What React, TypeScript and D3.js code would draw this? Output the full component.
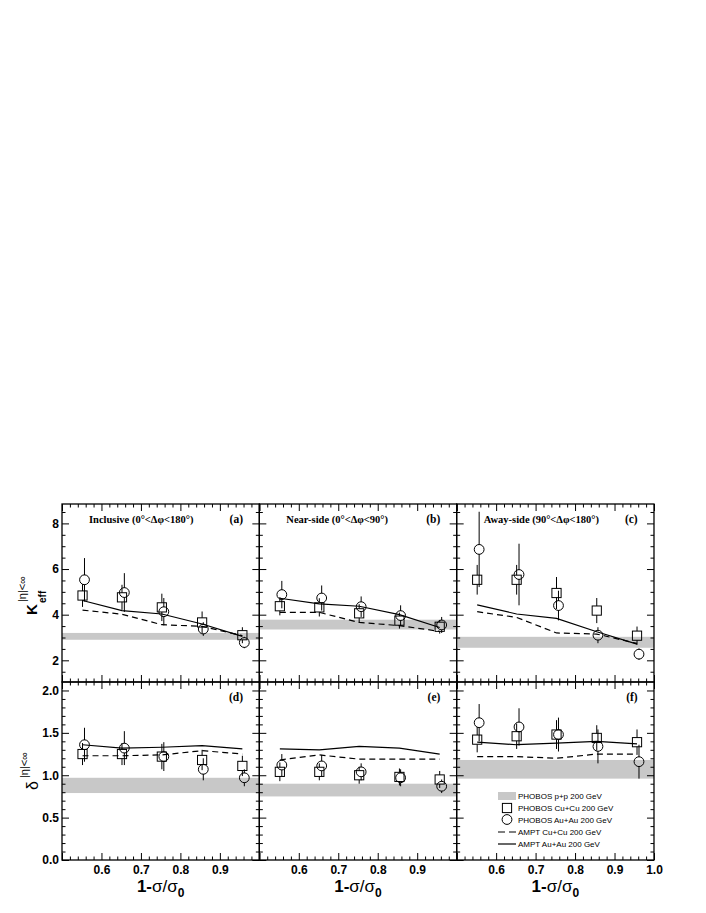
import React, { useEffect, useRef } from 'react';
import * as d3 from 'd3';

const W = 706;
const H = 913;

// centrality positions (1 - sigma/sigma0)
const xCuCu = [0.552, 0.652, 0.753, 0.855, 0.957];
const xAuAu = [0.557, 0.658, 0.758, 0.858, 0.962];
const xAmpt = [0.552, 0.652, 0.753, 0.855, 0.957];

// (a) inclusive K_eff
const keffIncCu = [4.84, 4.76, 4.32, 3.66, 3.1];
const keffIncCuErr = [0.5, 0.55, 0.6, 0.48, 0.35];
const keffIncAu = [5.53, 4.97, 4.13, 3.37, 2.78];
const keffIncAuErr = [0.95, 0.85, 0.6, 0.3, 0.25];
const keffIncAmptAu = [4.62, 4.18, 4.03, 3.59, 3.05];
const keffIncAmptCu = [4.2, 4.02, 3.56, 3.49, 3.08];
const keffIncPP = [2.9, 3.2];

// (b) near-side K_eff
const keffNearCu = [4.37, 4.32, 4.06, 3.74, 3.47];
const keffNearCuErr = [0.4, 0.4, 0.4, 0.35, 0.3];
const keffNearAu = [4.88, 4.73, 4.35, 3.96, 3.55];
const keffNearAuErr = [0.6, 0.55, 0.45, 0.45, 0.35];
const keffNearAmptAu = [4.72, 4.47, 4.37, 4.0, 3.44];
const keffNearAmptCu = [4.1, 4.1, 3.66, 3.52, 3.27];
const keffNearPP = [3.35, 3.78];

// (c) away-side K_eff
const keffAwayCu = [5.53, 5.53, 4.95, 4.18, 3.08];
const keffAwayCuErr = [0.65, 0.65, 0.7, 0.55, 0.4];
const keffAwayAu = [6.86, 5.76, 4.4, 3.1, 2.27];
const keffAwayAuErr = [1.65, 1.35, 0.65, 0.35, 0.25];
const keffAwayAmptAu = [4.43, 4.03, 3.84, 3.25, 2.71];
const keffAwayAmptCu = [4.13, 3.88, 3.2, 3.15, 2.74];
const keffAwayPP = [2.55, 3.03];

// (d) inclusive delta
const deltaIncCu = [1.25, 1.25, 1.22, 1.18, 1.11];
const deltaIncCuErr = [0.13, 0.13, 0.15, 0.12, 0.12];
const deltaIncAu = [1.36, 1.32, 1.22, 1.07, 0.97];
const deltaIncAuErr = [0.2, 0.2, 0.17, 0.13, 0.1];
const deltaIncAmptAu = [1.36, 1.32, 1.33, 1.35, 1.31];
const deltaIncAmptCu = [1.23, 1.23, 1.24, 1.29, 1.25];
const deltaIncPP = [0.79, 0.97];

// (e) near-side delta
const deltaNearCu = [1.04, 1.04, 1.0, 0.98, 0.95];
const deltaNearCuErr = [0.11, 0.1, 0.1, 0.1, 0.1];
const deltaNearAu = [1.12, 1.11, 1.04, 0.97, 0.87];
const deltaNearAuErr = [0.13, 0.13, 0.1, 0.1, 0.08];
const deltaNearAmptAu = [1.31, 1.3, 1.34, 1.32, 1.25];
const deltaNearAmptCu = [1.18, 1.24, 1.19, 1.19, 1.19];
const deltaNearPP = [0.75, 0.9];

// (f) away-side delta
const deltaAwayCu = [1.42, 1.46, 1.48, 1.44, 1.39];
const deltaAwayCuErr = [0.15, 0.15, 0.17, 0.15, 0.15];
const deltaAwayAu = [1.62, 1.57, 1.48, 1.34, 1.16];
const deltaAwayAuErr = [0.22, 0.22, 0.2, 0.2, 0.2];
const deltaAwayAmptAu = [1.39, 1.36, 1.38, 1.4, 1.37];
const deltaAwayAmptCu = [1.22, 1.22, 1.2, 1.25, 1.25];
const deltaAwayPP = [0.96, 1.18];

const panelTitles = ['Inclusive (0°<Δφ<180°)', 'Near-side (0°<Δφ<90°)', 'Away-side (90°<Δφ<180°)'];
const panelTags = ['(a)', '(b)', '(c)', '(d)', '(e)', '(f)'];
const legendLabels = [
  'PHOBOS p+p 200 GeV',
  'PHOBOS Cu+Cu 200 GeV',
  'PHOBOS Au+Au 200 GeV',
  'AMPT Cu+Cu 200 GeV',
  'AMPT Au+Au 200 GeV',
];

const xDomain = [0.5, 1.0];
const keffDomain = [1.05, 8.85];
const deltaDomain = [0, 2.1];
const xMajor = [0.5, 0.6, 0.7, 0.8, 0.9, 1.0];
const keffMajor = [2, 4, 6, 8];
const deltaMajor = [0, 0.5, 1, 1.5, 2];

const panels = [
  { cu: keffIncCu, cuErr: keffIncCuErr, au: keffIncAu, auErr: keffIncAuErr, amptAu: keffIncAmptAu, amptCu: keffIncAmptCu, pp: keffIncPP },
  { cu: keffNearCu, cuErr: keffNearCuErr, au: keffNearAu, auErr: keffNearAuErr, amptAu: keffNearAmptAu, amptCu: keffNearAmptCu, pp: keffNearPP },
  { cu: keffAwayCu, cuErr: keffAwayCuErr, au: keffAwayAu, auErr: keffAwayAuErr, amptAu: keffAwayAmptAu, amptCu: keffAwayAmptCu, pp: keffAwayPP },
  { cu: deltaIncCu, cuErr: deltaIncCuErr, au: deltaIncAu, auErr: deltaIncAuErr, amptAu: deltaIncAmptAu, amptCu: deltaIncAmptCu, pp: deltaIncPP },
  { cu: deltaNearCu, cuErr: deltaNearCuErr, au: deltaNearAu, auErr: deltaNearAuErr, amptAu: deltaNearAmptAu, amptCu: deltaNearAmptCu, pp: deltaNearPP },
  { cu: deltaAwayCu, cuErr: deltaAwayCuErr, au: deltaAwayAu, auErr: deltaAwayAuErr, amptAu: deltaAwayAmptAu, amptCu: deltaAwayAmptCu, pp: deltaAwayPP },
];

const sans = 'Liberation Sans, Arial, Helvetica, sans-serif';
const serif = 'Liberation Serif, Times New Roman, serif';
const bandColor = '#c8c8c8';

const plotLeft = 62;
const plotTop = 504;
const panelW = 197.33;
const panelH = 178;
const markerHalf = 4.6;

function App() {
  const ref = useRef<SVGSVGElement>(null);

  useEffect(() => {
    const svg = d3.select(ref.current);
    svg.selectAll('*').remove();
    svg.append('rect').attr('width', W).attr('height', H).attr('fill', 'white');

    panels.forEach((p, i) => {
      const col = i % 3;
      const row = Math.floor(i / 3);
      const x0 = plotLeft + col * panelW;
      const x1 = x0 + panelW;
      const y0 = plotTop + row * panelH;
      const y1 = y0 + panelH;

      const yDom = row === 0 ? keffDomain : deltaDomain;
      const x = d3.scaleLinear().domain(xDomain).range([x0, x1]);
      const y = d3.scaleLinear().domain(yDom).range([y1, y0]);
      const g = svg.append('g');

      // p+p band
      g.append('rect')
        .attr('x', x(0.5))
        .attr('width', x(1.0) - x(0.5))
        .attr('y', y(p.pp[1]))
        .attr('height', y(p.pp[0]) - y(p.pp[1]))
        .attr('fill', bandColor);

      // axes with inward ticks
      const yMajor = row === 0 ? keffMajor : deltaMajor;
      const yMinor = (row === 0
        ? d3.range(0, 18).map(k => 1.5 + k * 0.5).filter(v => v % 2 !== 0)
        : d3.range(0, 22).map(k => +(k * 0.1).toFixed(1)).filter(v => Math.abs(v * 2 - Math.round(v * 2)) > 1e-6))
        .filter(v => v > yDom[0] && v < yDom[1]);
      const xMinor = d3.range(0, 26).map(k => +(0.5 + k * 0.02).toFixed(2)).filter(v => Math.abs(v * 10 - Math.round(v * 10)) > 1e-6);

      const style = (sel: any) => {
        sel.select('.domain').remove();
        sel.selectAll('line').attr('stroke', 'black').attr('stroke-width', 1);
        sel.selectAll('text')
          .attr('font-family', sans)
          .attr('font-weight', 'bold')
          .attr('font-size', 12)
          .attr('fill', 'black');
      };

      const yFmt = row === 0 ? d3.format('d') : d3.format('.1f');
      g.append('g').attr('transform', `translate(${x0},0)`)
        .call(d3.axisLeft(y).tickValues(yMajor).tickSize(-7).tickPadding(3)
          .tickFormat(col === 0 ? (d: any) => yFmt(d) : () => ''))
        .call(style);
      g.append('g').attr('transform', `translate(${x0},0)`)
        .call(d3.axisLeft(y).tickValues(yMinor).tickSize(-3.5).tickFormat(() => ''))
        .call(style);
      g.append('g').attr('transform', `translate(${x1},0)`)
        .call(d3.axisRight(y).tickValues(yMajor).tickSize(-7).tickFormat(() => ''))
        .call(style);
      g.append('g').attr('transform', `translate(${x1},0)`)
        .call(d3.axisRight(y).tickValues(yMinor).tickSize(-3.5).tickFormat(() => ''))
        .call(style);

      const xFmt = (d: any) => {
        if (row === 0) return '';
        if (d === 0.5) return '';
        if (d === 1.0 && col !== 2) return '';
        return d3.format('.1f')(d);
      };
      g.append('g').attr('transform', `translate(0,${y1})`)
        .call(d3.axisBottom(x).tickValues(xMajor).tickSize(-7).tickPadding(5).tickFormat(xFmt))
        .call(style);
      g.append('g').attr('transform', `translate(0,${y1})`)
        .call(d3.axisBottom(x).tickValues(xMinor).tickSize(-3.5).tickFormat(() => ''))
        .call(style);
      g.append('g').attr('transform', `translate(0,${y0})`)
        .call(d3.axisTop(x).tickValues(xMajor).tickSize(-7).tickFormat(() => ''))
        .call(style);
      g.append('g').attr('transform', `translate(0,${y0})`)
        .call(d3.axisTop(x).tickValues(xMinor).tickSize(-3.5).tickFormat(() => ''))
        .call(style);

      // AMPT curves
      const amptLine = d3.line<number>().x((_, k) => x(xAmpt[k])).y(v => y(v));
      g.append('path').attr('d', amptLine(p.amptCu)).attr('fill', 'none')
        .attr('stroke', 'black').attr('stroke-width', 1.2).attr('stroke-dasharray', '6,4');
      g.append('path').attr('d', amptLine(p.amptAu)).attr('fill', 'none')
        .attr('stroke', 'black').attr('stroke-width', 1.2);

      // error bars (not crossing own marker)
      const errBars = (xs: number[], vals: number[], errs: number[]) => {
        vals.forEach((v, k) => {
          const cx = x(xs[k]);
          const cy = y(v);
          const top = y(v + errs[k]);
          const bot = y(v - errs[k]);
          if (top < cy - markerHalf) {
            g.append('line').attr('x1', cx).attr('x2', cx).attr('y1', top).attr('y2', cy - markerHalf)
              .attr('stroke', 'black').attr('stroke-width', 1);
          }
          if (bot > cy + markerHalf) {
            g.append('line').attr('x1', cx).attr('x2', cx).attr('y1', cy + markerHalf).attr('y2', bot)
              .attr('stroke', 'black').attr('stroke-width', 1);
          }
        });
      };
      errBars(xCuCu, p.cu, p.cuErr);
      errBars(xAuAu, p.au, p.auErr);

      g.selectAll(null).data(p.cu).enter().append('rect')
        .attr('x', (_, k) => x(xCuCu[k]) - markerHalf)
        .attr('y', d => y(d) - markerHalf)
        .attr('width', markerHalf * 2)
        .attr('height', markerHalf * 2)
        .attr('fill', 'none').attr('stroke', 'black').attr('stroke-width', 1);
      g.selectAll(null).data(p.au).enter().append('circle')
        .attr('cx', (_, k) => x(xAuAu[k]))
        .attr('cy', d => y(d))
        .attr('r', markerHalf + 0.3)
        .attr('fill', 'none').attr('stroke', 'black').attr('stroke-width', 1);

      // frame
      g.append('rect').attr('x', x0).attr('y', y0).attr('width', panelW).attr('height', panelH)
        .attr('fill', 'none').attr('stroke', 'black').attr('stroke-width', 1.3);

      // titles and tags
      if (row === 0) {
        g.append('text').attr('x', x0 + 27).attr('y', y0 + 19)
          .attr('font-family', serif).attr('font-weight', 'bold').attr('font-size', 10.5)
          .text(panelTitles[col]);
      }
      g.append('text').attr('x', x0 + 181).attr('y', y0 + 19).attr('text-anchor', 'end')
        .attr('font-family', serif).attr('font-weight', 'bold').attr('font-size', 11.5)
        .text(panelTags[i]);

      // x-axis title
      if (row === 1) {
        const t = g.append('text').attr('x', (x0 + x1) / 2).attr('y', 892)
          .attr('text-anchor', 'middle').attr('font-family', sans).attr('font-size', 17);
        t.append('tspan').attr('font-weight', 'bold').text('1-');
        t.append('tspan').text('σ/σ');
        t.append('tspan').attr('font-weight', 'bold').attr('font-size', 12).attr('dy', 5).text('0');
      }
    });

    // y-axis titles
    const k = svg.append('g').attr('transform', 'translate(37,593) rotate(-90)')
      .attr('font-family', sans);
    k.append('text').attr('x', -22).attr('y', 0).attr('font-weight', 'bold').attr('font-size', 15).text('K');
    k.append('text').attr('x', -10).attr('y', 9).attr('font-weight', 'bold').attr('font-size', 10).text('eff');
    k.append('text').attr('x', -9).attr('y', -11).attr('font-size', 11).text('|η|<∞');

    const dl = svg.append('g').attr('transform', 'translate(38,770) rotate(-90)')
      .attr('font-family', sans);
    dl.append('text').attr('x', -20).attr('y', 0).attr('font-size', 16).text('δ');
    dl.append('text').attr('x', -8).attr('y', -10).attr('font-size', 11).text('|η|<∞');

    // legend
    const lg = svg.append('g').attr('font-family', sans).attr('font-size', 8);
    const rowsY = [796, 808, 819.5, 832, 844];
    lg.append('rect').attr('x', 498).attr('y', rowsY[0] - 4).attr('width', 18).attr('height', 8).attr('fill', bandColor);
    lg.append('rect').attr('x', 507 - markerHalf).attr('y', rowsY[1] - markerHalf)
      .attr('width', markerHalf * 2).attr('height', markerHalf * 2)
      .attr('fill', 'none').attr('stroke', 'black');
    lg.append('circle').attr('cx', 507).attr('cy', rowsY[2]).attr('r', markerHalf + 0.3)
      .attr('fill', 'none').attr('stroke', 'black');
    lg.append('line').attr('x1', 498).attr('x2', 516).attr('y1', rowsY[3]).attr('y2', rowsY[3])
      .attr('stroke', 'black').attr('stroke-width', 1.2).attr('stroke-dasharray', '7,4');
    lg.append('line').attr('x1', 498).attr('x2', 516).attr('y1', rowsY[4]).attr('y2', rowsY[4])
      .attr('stroke', 'black').attr('stroke-width', 1.2);
    legendLabels.forEach((lab, j) => {
      lg.append('text').attr('x', 518).attr('y', rowsY[j] + 3).text(lab);
    });
  }, []);

  return (
    <svg ref={ref} width={W} height={H}
      style={{ position: 'absolute', left: 0, top: 0, background: 'white' }} />
  );
}

export default App;
